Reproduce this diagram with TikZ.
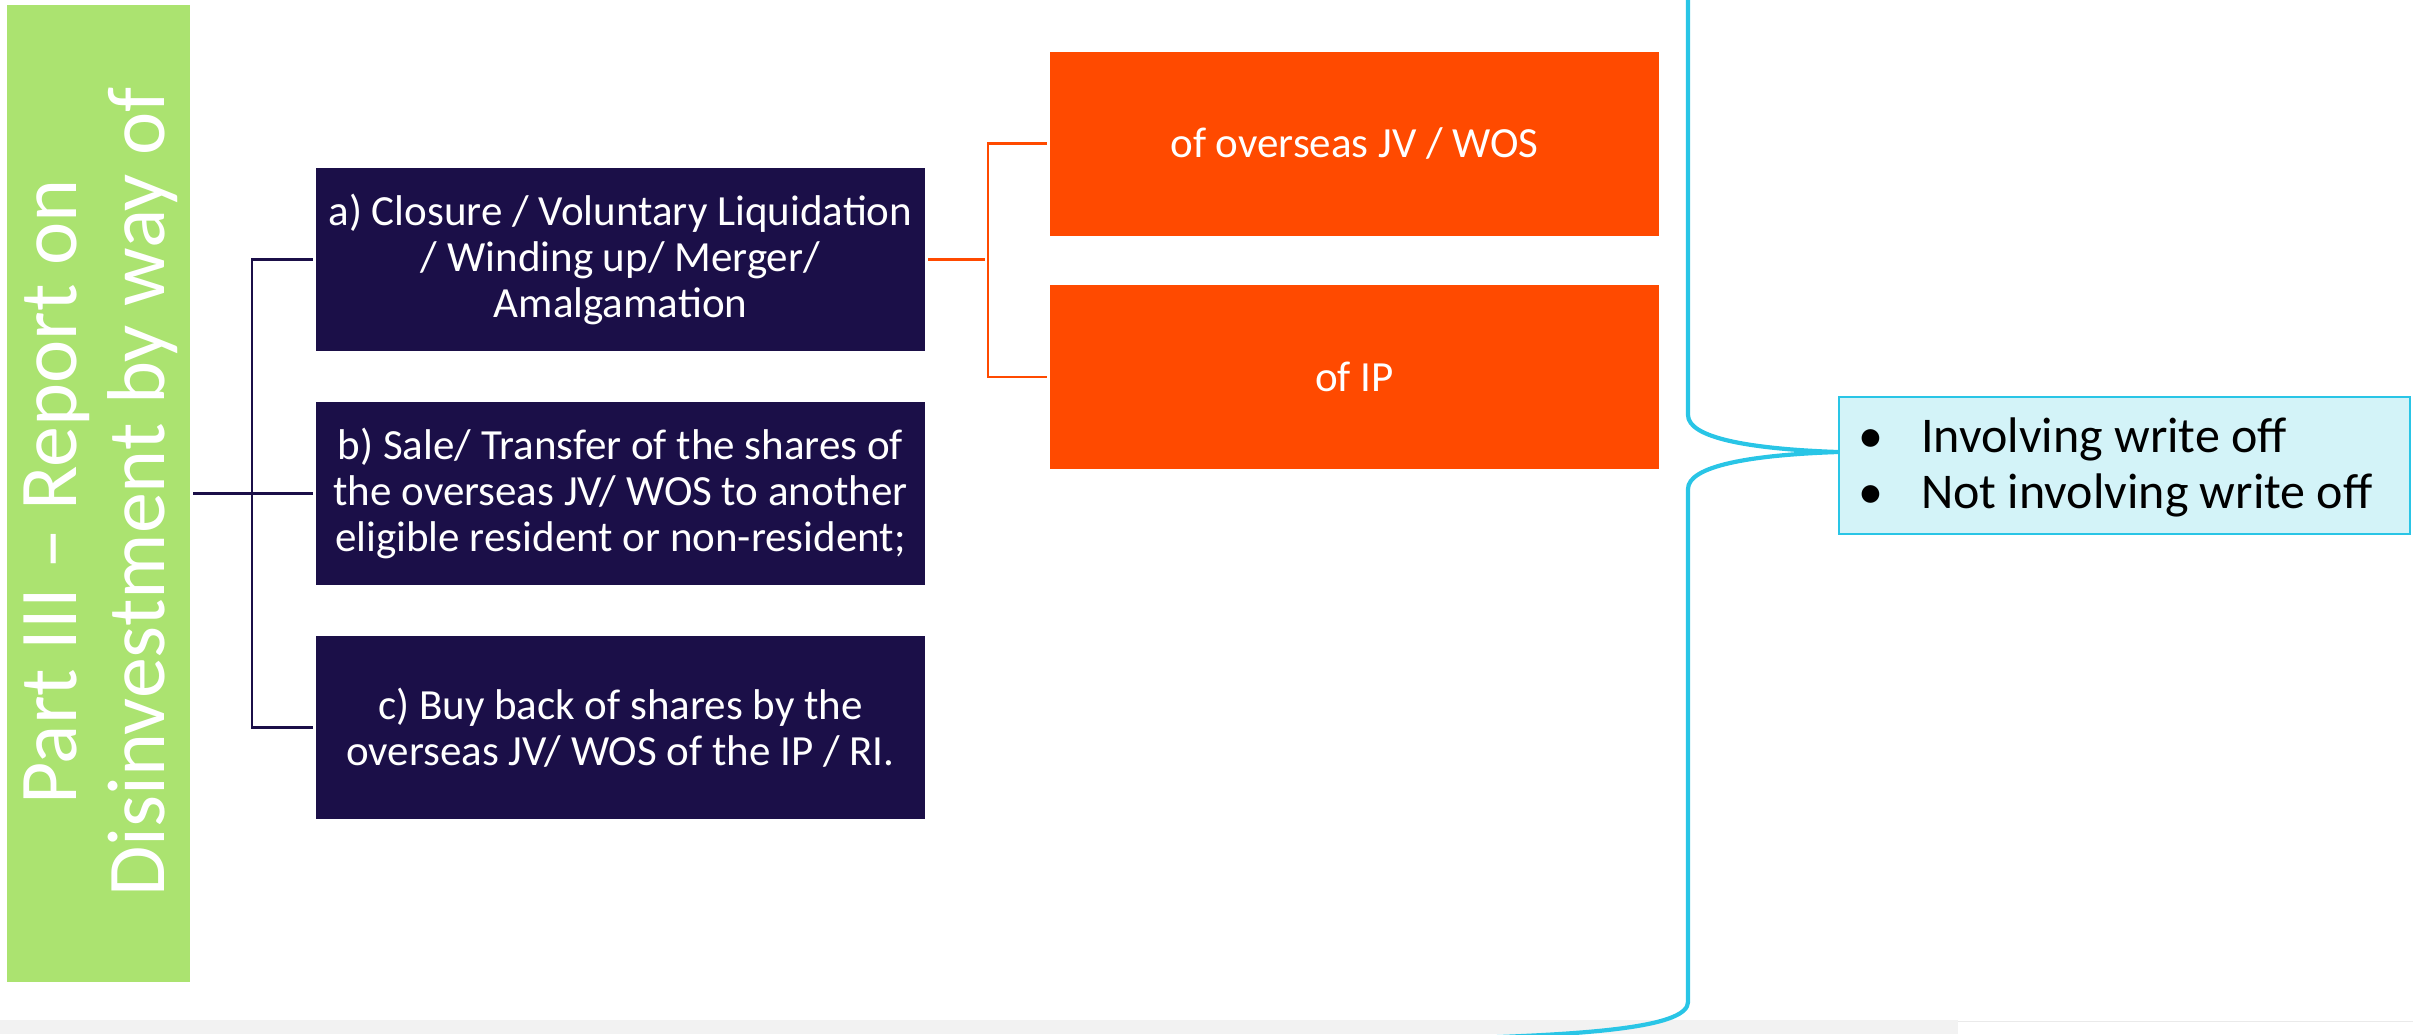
\documentclass[tikz,border=0pt]{standalone}
\usepackage{fontspec}
\setmainfont{Carlito}
\usetikzlibrary{calc}

\definecolor{sidegreen}{RGB}{171,227,112}
\definecolor{navy}{RGB}{27,15,72}
\definecolor{flame}{RGB}{255,74,0}
\definecolor{aqua}{RGB}{41,197,230}
\definecolor{aquafill}{RGB}{211,243,248}
\definecolor{strip}{RGB}{242,242,242}
\definecolor{stripline}{RGB}{234,234,234}

\begin{document}
\begin{tikzpicture}[x=1pt,y=-1pt,
  sidebar/.style={rectangle, fill=sidegreen, inner sep=0pt,
    minimum width=183, minimum height=977},
  sidetitle/.style={rotate=90, anchor=base, text=white, inner sep=0pt,
    font=\fontsize{82}{88}\selectfont},
  navybox/.style={rectangle, fill=navy, text=white, inner sep=0pt,
    minimum width=609, minimum height=183, align=center,
    font=\fontsize{43}{46}\selectfont},
  flamebox/.style={rectangle, fill=flame, text=white, inner sep=0pt,
    minimum width=609, minimum height=184, align=center,
    font=\fontsize{43}{46}\selectfont},
  aquabox/.style={rectangle, fill=aquafill, draw=aqua, line width=2.5,
    inner sep=0pt, minimum width=571, minimum height=137},
  aquaitem/.style={anchor=base west, inner sep=0pt, text=black,
    font=\fontsize{50}{56}\selectfont},
  navyline/.style={draw=navy, line width=2.2, shorten <=3, shorten >=3},
  flameline/.style={draw=flame, line width=2.2, shorten <=3, shorten >=3},
  braceline/.style={draw=aqua, line width=4.2}
]
\useasboundingbox (0,0) rectangle (2413,1034);
\clip (0,0) rectangle (2413,1034);

% footer strip
\fill[strip] (0,1020) rectangle (1958,1034);
\draw[stripline, line width=1.5] (1958,1021.5) -- (2413,1021.5);

% side bar with its rotated title
\node[sidebar] (side) at (98.5,493.5) {};
\node[sidetitle] (title1) at (76,492) {Part III – Report on};
\node[sidetitle] (title2) at (164,492) {Disinvestment by way of};

% ways of disinvestment
\node[navybox] (a) at (620.5,259.5)
  {a) Closure / Voluntary Liquidation\\/ Winding up/ Merger/\\Amalgamation};
\node[navybox] (b) at (620.5,493.5)
  {b) Sale/ Transfer of the shares of\\the overseas JV/ WOS to another\\eligible resident or non-resident;};
\node[navybox] (c) at (620.5,727.5)
  {c) Buy back of shares by the\\overseas JV/ WOS of the IP / RI.};

% closure applies to
\node[flamebox] (o1) at (1354.5,143.5) {of overseas JV / WOS};
\node[flamebox] (o2) at (1354.5,377) {of IP};

% write-off box
\node[aquabox] (wo) at (2124.5,465.5) {};
\node[aquaitem] (wo1) at (1858,452) {\makebox[63pt][l]{•}Involving write off};
\node[aquaitem] (wo2) at (1858,508) {\makebox[63pt][l]{•}Not involving write off};

% navy bracket
\coordinate (j1) at (252,494);
\draw[navyline] (side.east |- b.west) -- (b.west);
\draw[navyline] (a.west) -- (a.west -| j1) -- (c.west -| j1) -- (c.west);

% orange bracket
\coordinate (j2) at (988,260);
\draw[flameline] (a.east) -- (a.east -| j2);
\draw[flameline] (o1.west) -- (o1.west -| j2) -- (o2.west -| j2) -- (o2.west);

% large curly brace pointing at the write-off box
\coordinate (tip) at ($(wo.west)+(0,-13.5)$);
\draw[braceline] (1688,-10) -- (1688,415)
  .. controls (1688,438) and (1750,449) .. (tip)
  .. controls (1750,455) and (1688,466) .. (1688,489)
  -- (1688,1002)
  .. controls (1688,1026) and (1600,1034) .. (1470,1038);
\end{tikzpicture}
\end{document}
